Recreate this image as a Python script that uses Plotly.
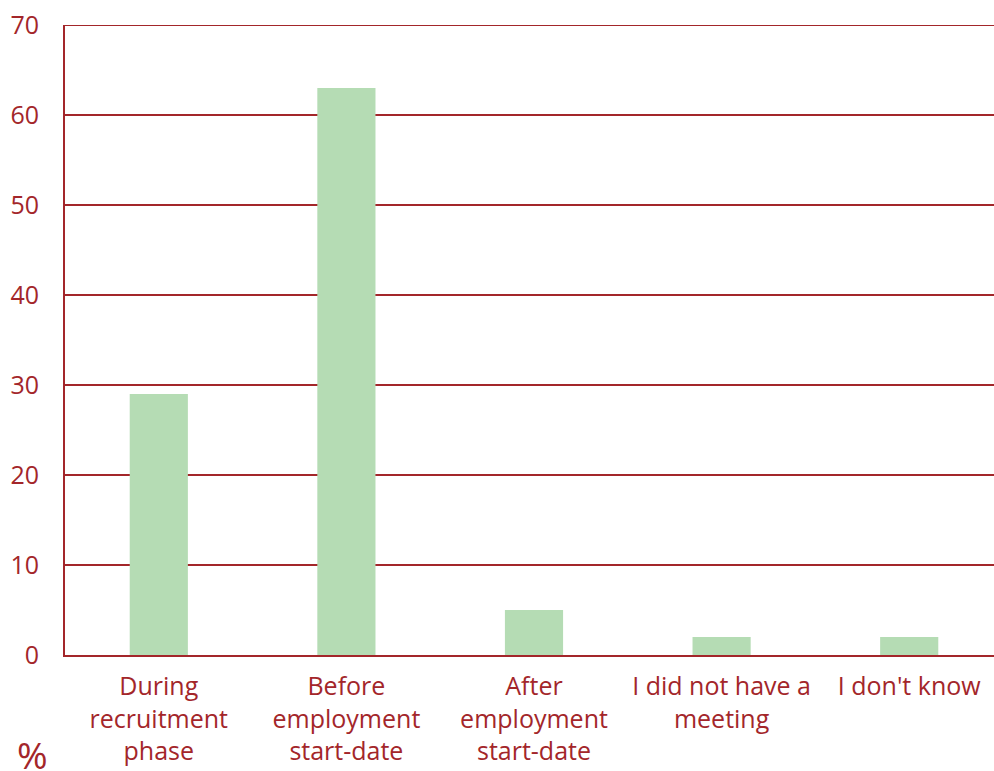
import plotly.graph_objects as go

categories = ["During<br>recruitment<br>phase", "Before<br>employment<br>start-date",
              "After<br>employment<br>start-date", "I did not have a<br>meeting", "I don't know"]
values = [29, 63, 5, 2, 2]
y_ticks = [0, 10, 20, 30, 40, 50, 60, 70]

red = "#a3262a"
fig = go.Figure(go.Bar(x=categories, y=values, marker_color="#b5dcb4", width=0.31,
                       marker_line_width=0))
fig.update_layout(
    width=994, height=771, plot_bgcolor="white", paper_bgcolor="white",
    margin=dict(l=65, r=0, t=25, b=116),
    font=dict(family="Open Sans", size=25, color=red),
    showlegend=False,
    xaxis=dict(range=[-0.5, 4.452], showline=True, linecolor=red, linewidth=2,
               showgrid=False, ticks="", ticklabelstandoff=8, tickfont=dict(size=25, color=red)),
    yaxis=dict(range=[0, 70], tickvals=y_ticks, showline=True, linecolor=red, linewidth=2,
               gridcolor=red, gridwidth=1.5, zeroline=False, ticks="", ticklabelstandoff=19,
               tickfont=dict(size=25, color=red)),
    shapes=[dict(type="line", xref="paper", x0=0, x1=1, yref="y", y0=70, y1=70,
                 line=dict(color=red, width=2))],
    annotations=[dict(text="%", xref="paper", yref="paper", x=-33/929, y=-100/630,
                      xanchor="center", yanchor="middle", showarrow=False,
                      font=dict(size=37, color=red))],
)
fig.write_html("out.html")
